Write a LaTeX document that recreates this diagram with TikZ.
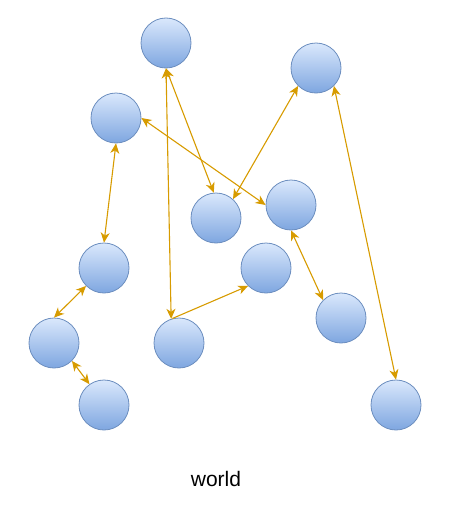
\documentclass[tikz,border=0pt]{standalone}
\usepackage{fontspec}
\setmainfont{Liberation Sans}
\usetikzlibrary{arrows.meta}
\definecolor{cfillt}{HTML}{DAE8FC}
\definecolor{cfillb}{HTML}{7EA6E0}
\definecolor{cstroke}{HTML}{6C8EBF}
\definecolor{cedge}{HTML}{D79B00}
\begin{document}
\begin{tikzpicture}[x=1pt,y=-1pt,
  ball/.style={circle,minimum size=50pt,inner sep=0pt,draw=cstroke,line width=0.8pt,top color=cfillt,bottom color=cfillb},
  tip/.tip={Stealth[length=10pt,width=9pt,inset=3pt]},
  link/.style={draw=cedge,line width=1.1pt,tip-tip},
  linkone/.style={draw=cedge,line width=1.1pt,-tip}]
\useasboundingbox (0,0) rectangle (452,514);
\node[ball] (A) at (166,43) {};
\node[ball] (B) at (316,68) {};
\node[ball] (C) at (116,118) {};
\node[ball] (D) at (216,218) {};
\node[ball] (E) at (291,205) {};
\node[ball] (F) at (104,268) {};
\node[ball] (G) at (266,268) {};
\node[ball] (H) at (341,318) {};
\node[ball] (I) at (54,343) {};
\node[ball] (J) at (179,343) {};
\node[ball] (K) at (104,405) {};
\node[ball] (L) at (396,405) {};
\draw[link] (A.south) -- (D.95);
\draw[link] (A.south) -- (J.108);
\draw[link] (B.south west) -- (D.48);
\draw[link] (C.east) -- (E.west);
\draw[link] (C.south) -- (F.north);
\draw[link] (F.south west) -- (I.north);
\draw[link] (I.south east) -- (K.125);
\draw[linkone] (J.105) -- (G.south west);
\draw[link] (E.south) -- (H.north west);
\draw[link] (B.south east) -- (L.north);
\node[font=\fontsize{21}{24}\selectfont] (T) at (216,479) {world};
\end{tikzpicture}
\end{document}
